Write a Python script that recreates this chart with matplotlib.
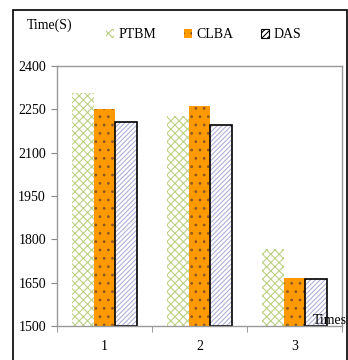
import matplotlib.pyplot as plt
import numpy as np
from matplotlib.patches import Patch, Rectangle

plt.rcParams['font.family'] = ['Liberation Serif', 'DejaVu Serif']
plt.rcParams['hatch.linewidth'] = 0.8

categories = ['1', '2', '3']
series = ['PTBM', 'CLBA', 'DAS']
ptbm = [2305, 2228, 1765]
clba = [2250, 2262, 1665]
das = [2206, 2195, 1662]
yticks = [1500, 1650, 1800, 1950, 2100, 2250, 2400]

fig = plt.figure(figsize=(3.48, 3.60), dpi=100)
ax = fig.add_axes([57 / 348, 1 - 326 / 360, 285 / 348, 260 / 360])

x = np.arange(len(categories))
w = 0.225
styles = [
    dict(facecolor='white', hatch_color='#bcd283', hatch='xxxx', edge=None),
    dict(facecolor='#ff9900', hatch_color='#8a5a20', hatch='..', edge=None),
    dict(facecolor='white', hatch_color='#aeb0d8', hatch='///////', edge='black'),
]
for i, (vals, st) in enumerate(zip([ptbm, clba, das], styles)):
    pos = x + (i - 1) * w
    ax.bar(pos, np.array(vals) - 1500, w, bottom=1500, color=st['facecolor'],
           edgecolor=st['hatch_color'], hatch=st['hatch'], linewidth=0)
    if st['edge']:
        ax.bar(pos, np.array(vals) - 1500, w, bottom=1500, fill=False,
               edgecolor=st['edge'], linewidth=1.2)

fs = 10
ax.set_xlim(-0.5, 2.5)
ax.set_ylim(1500, 2400)
ax.set_yticks(yticks)
ax.set_yticklabels([str(v) for v in yticks], fontsize=fs)
ax.set_xticks(x)
ax.set_xticklabels(categories, fontsize=fs)
ax.set_xticks([-0.5, 0.5, 1.5, 2.5], minor=True)
ax.tick_params(axis='x', which='major', length=0, pad=10)
ax.tick_params(axis='x', which='minor', length=4, color='#888888')
ax.tick_params(axis='y', length=4, color='#888888', pad=4)
for s in ax.spines.values():
    s.set_color('#999999')
    s.set_linewidth(1)

handles = [
    Patch(facecolor='white', edgecolor=styles[0]['hatch_color'], hatch='xxxx', linewidth=0),
    Patch(facecolor='#ff9900', edgecolor=styles[1]['hatch_color'], hatch='..', linewidth=0),
    Patch(facecolor='white', edgecolor='black', hatch='//////', linewidth=0.8),
]
fig.legend(handles, series, loc='center', bbox_to_anchor=(0.585, 1 - 35 / 360), ncol=3,
           frameon=False, fontsize=fs, handlelength=0.6, handleheight=0.6,
           handletextpad=0.3, columnspacing=2.0)

fig.text(27 / 348, 1 - 25 / 360, 'Time(S)', fontsize=fs, ha='left', va='center')
fig.text(313 / 348, 1 - 320 / 360, 'Times', fontsize=fs, ha='left', va='center')

fig.patches.append(Rectangle((13 / 348, -0.01), 334 / 348, 1 - 10 / 360 + 0.01,
                             transform=fig.transFigure, fill=False,
                             edgecolor='black', linewidth=1.2))

fig.savefig('out.png', dpi=100)
